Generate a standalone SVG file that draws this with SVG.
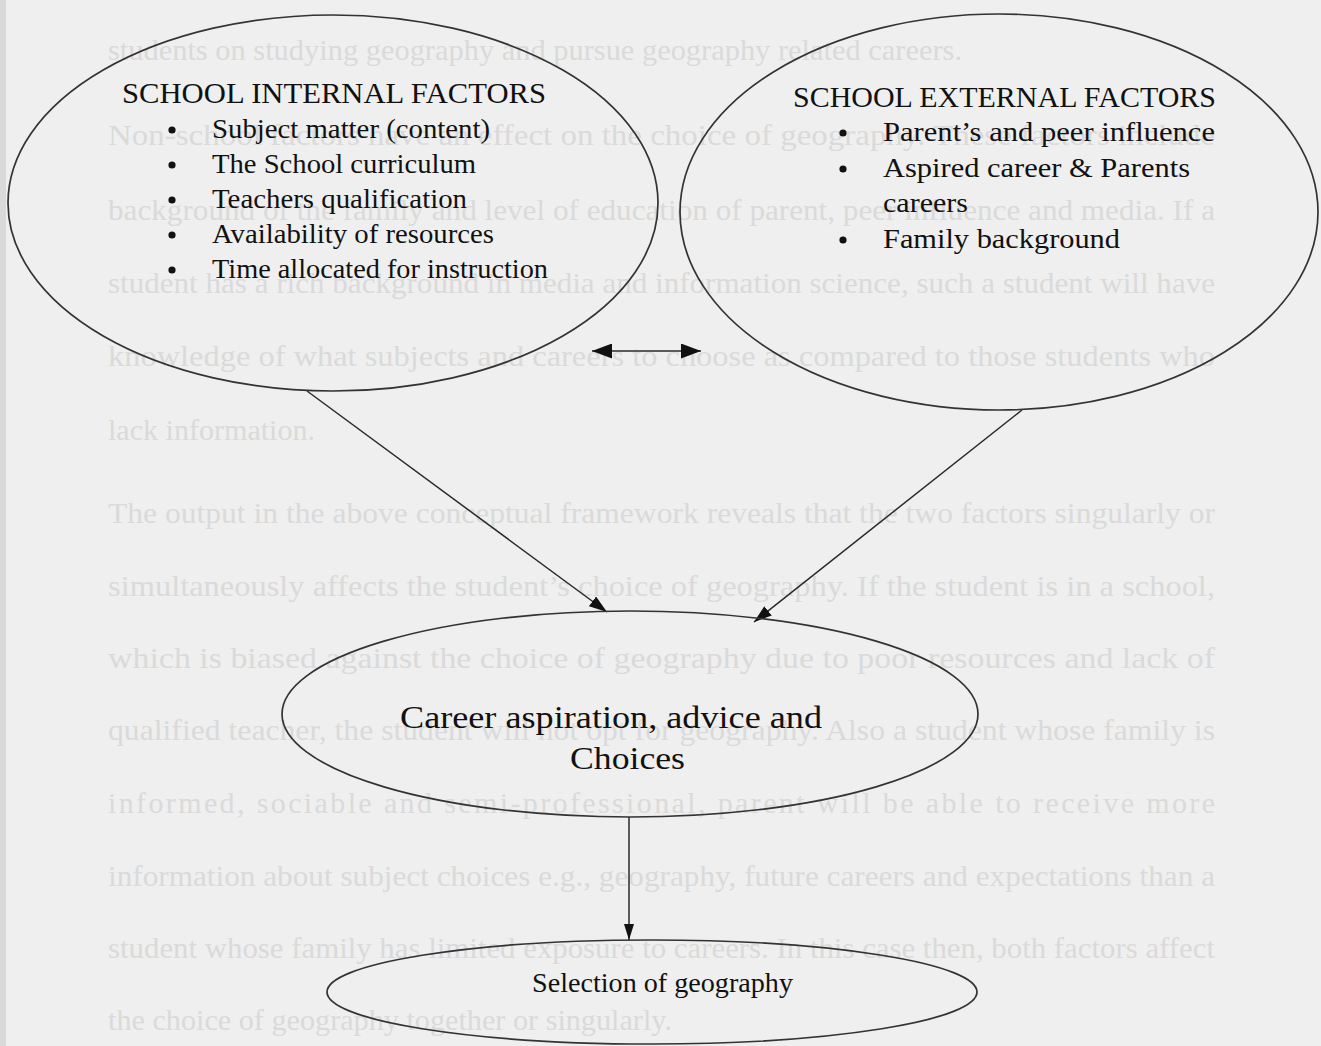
<svg xmlns="http://www.w3.org/2000/svg" width="1321" height="1046" viewBox="0 0 1321 1046">
  <style>
    .bg-text { font-family: "Liberation Serif", "Times New Roman", serif; font-size: 30px; fill: #dadada; }
    .hdr { font-family: "Liberation Serif", "Times New Roman", serif; font-size: 29px; fill: #111; }
    .item { font-family: "Liberation Serif", "Times New Roman", serif; font-size: 28px; fill: #111; }
    .big { font-family: "Liberation Serif", "Times New Roman", serif; font-size: 31px; fill: #111; }
    .small { font-family: "Liberation Serif", "Times New Roman", serif; font-size: 27px; fill: #111; }
    .node { fill: none; stroke: #333; stroke-width: 1.7; }
    .edge { fill: none; stroke: #2a2a2a; stroke-width: 1.5; }
    .bullet { fill: #111; }
  </style>
  <defs>
    <marker id="arrBig" viewBox="0 0 10 10" refX="10" refY="5" markerWidth="20" markerHeight="15" markerUnits="userSpaceOnUse" orient="auto-start-reverse" preserveAspectRatio="none">
      <path d="M0,0 L10,5 L0,10 Z" fill="#111"/>
    </marker>
    <marker id="arrMid" viewBox="0 0 10 10" refX="10" refY="5" markerWidth="18" markerHeight="12" markerUnits="userSpaceOnUse" orient="auto" preserveAspectRatio="none">
      <path d="M0,0 L10,5 L0,10 Z" fill="#111"/>
    </marker>
    <marker id="arrSmall" viewBox="0 0 10 10" refX="10" refY="5" markerWidth="16" markerHeight="10" markerUnits="userSpaceOnUse" orient="auto" preserveAspectRatio="none">
      <path d="M0,0 L10,5 L0,10 Z" fill="#111"/>
    </marker>
  </defs>

  <rect x="0" y="0" width="1321" height="1046" fill="#efefef"/>
  <rect x="0" y="0" width="6" height="1046" fill="#d9d9d9"/>

  <g id="page-bleed-through">
    <text class="bg-text" x="108" y="60" textLength="854" lengthAdjust="spacingAndGlyphs">students on studying geography and pursue geography related careers.</text>
    <text class="bg-text" x="108" y="145" textLength="1107" lengthAdjust="spacingAndGlyphs">Non-school factors have an effect on the choice of geography. These factors include</text>
    <text class="bg-text" x="108" y="220" textLength="1107" lengthAdjust="spacingAndGlyphs">background of the family and level of education of parent, peer influence and media. If a</text>
    <text class="bg-text" x="108" y="293" textLength="1107" lengthAdjust="spacingAndGlyphs">student has a rich background in media and information science, such a student will have</text>
    <text class="bg-text" x="108" y="366" textLength="1107" lengthAdjust="spacingAndGlyphs">knowledge of what subjects and careers to choose as compared to those students who</text>
    <text class="bg-text" x="108" y="440" textLength="207" lengthAdjust="spacingAndGlyphs">lack information.</text>
    <text class="bg-text" x="108" y="523" textLength="1107" lengthAdjust="spacingAndGlyphs">The output in the above conceptual framework reveals that the two factors singularly or</text>
    <text class="bg-text" x="108" y="596" textLength="1107" lengthAdjust="spacingAndGlyphs">simultaneously affects the student’s choice of geography. If the student is in a school,</text>
    <text class="bg-text" x="108" y="668" textLength="1107" lengthAdjust="spacingAndGlyphs">which is biased against the choice of geography due to poor resources and lack of</text>
    <text class="bg-text" x="108" y="740" textLength="1107" lengthAdjust="spacingAndGlyphs">qualified teacher, the student will not opt for geography. Also a student whose family is</text>
    <text class="bg-text" x="108" y="813" textLength="1107" lengthAdjust="spacing">informed, sociable and semi-professional, parent will be able to receive more</text>
    <text class="bg-text" x="108" y="886" textLength="1107" lengthAdjust="spacingAndGlyphs">information about subject choices e.g., geography, future careers and expectations than a</text>
    <text class="bg-text" x="108" y="958" textLength="1107" lengthAdjust="spacingAndGlyphs">student whose family has limited exposure to careers. In this case then, both factors affect</text>
    <text class="bg-text" x="108" y="1030" textLength="564" lengthAdjust="spacingAndGlyphs">the choice of geography together or singularly.</text>
  </g>

  <g id="connectors">
    <line class="edge" x1="592" y1="351" x2="701" y2="351" marker-start="url(#arrBig)" marker-end="url(#arrBig)"/>
    <line class="edge" x1="307" y1="391" x2="607" y2="612" marker-end="url(#arrMid)"/>
    <line class="edge" x1="1022" y1="410" x2="754" y2="622" marker-end="url(#arrMid)"/>
    <line class="edge" x1="629" y1="817" x2="629" y2="940" marker-end="url(#arrSmall)"/>
  </g>

  <g id="node-internal">
    <ellipse class="node" cx="333" cy="203" rx="325" ry="188"/>
    <text class="hdr" x="122" y="103" textLength="424" lengthAdjust="spacingAndGlyphs">SCHOOL INTERNAL FACTORS</text>
    <circle class="bullet" cx="172" cy="130" r="3.6"/>
    <text class="item" x="212" y="138" textLength="278" lengthAdjust="spacingAndGlyphs">Subject matter (content)</text>
    <circle class="bullet" cx="172" cy="165" r="3.6"/>
    <text class="item" x="212" y="173" textLength="264" lengthAdjust="spacingAndGlyphs">The School curriculum</text>
    <circle class="bullet" cx="172" cy="200" r="3.6"/>
    <text class="item" x="212" y="208" textLength="255" lengthAdjust="spacingAndGlyphs">Teachers qualification</text>
    <circle class="bullet" cx="172" cy="235" r="3.6"/>
    <text class="item" x="212" y="243" textLength="282" lengthAdjust="spacingAndGlyphs">Availability of resources</text>
    <circle class="bullet" cx="172" cy="270" r="3.6"/>
    <text class="item" x="212" y="278" textLength="336" lengthAdjust="spacingAndGlyphs">Time allocated for instruction</text>
  </g>

  <g id="node-external">
    <ellipse class="node" cx="999" cy="212" rx="319" ry="198"/>
    <text class="hdr" x="793" y="107" textLength="423" lengthAdjust="spacingAndGlyphs">SCHOOL EXTERNAL FACTORS</text>
    <circle class="bullet" cx="843" cy="133" r="3.6"/>
    <text class="item" x="883" y="141" textLength="332" lengthAdjust="spacingAndGlyphs">Parent’s and peer influence</text>
    <circle class="bullet" cx="843" cy="169" r="3.6"/>
    <text class="item" x="883" y="177" textLength="307" lengthAdjust="spacingAndGlyphs">Aspired career &amp; Parents</text>
    <text class="item" x="883" y="212" textLength="85" lengthAdjust="spacingAndGlyphs">careers</text>
    <circle class="bullet" cx="843" cy="240" r="3.6"/>
    <text class="item" x="883" y="248" textLength="237" lengthAdjust="spacingAndGlyphs">Family background</text>
  </g>

  <g id="node-career">
    <ellipse class="node" cx="630" cy="714" rx="348" ry="103"/>
    <text class="big" x="400" y="728" textLength="422" lengthAdjust="spacingAndGlyphs">Career aspiration, advice and</text>
    <text class="big" x="570" y="769" textLength="115" lengthAdjust="spacingAndGlyphs">Choices</text>
  </g>

  <g id="node-selection">
    <ellipse class="node" cx="652" cy="992" rx="325" ry="52"/>
    <text class="small" x="532" y="992" textLength="261" lengthAdjust="spacingAndGlyphs">Selection of geography</text>
  </g>
</svg>
